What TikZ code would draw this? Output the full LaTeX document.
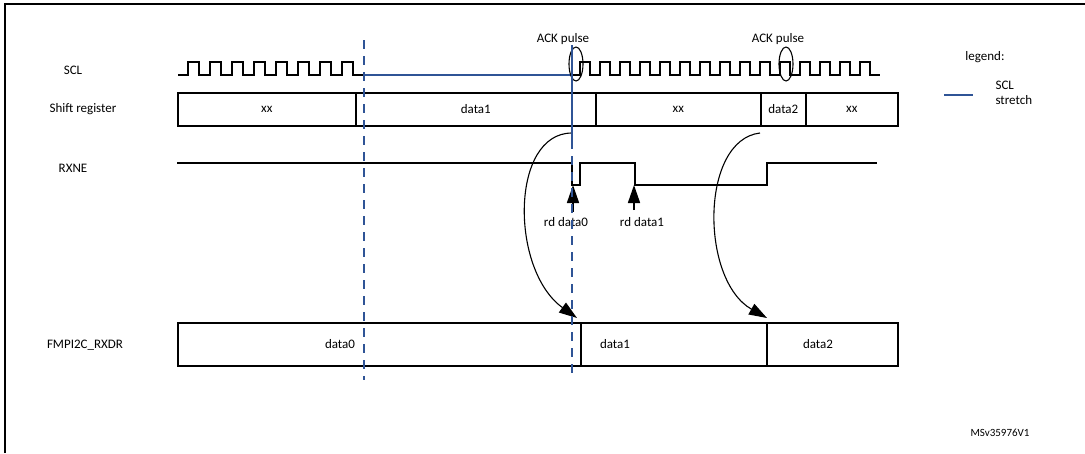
\documentclass[tikz,border=0pt]{standalone}
\usepackage{fontspec}
\setmainfont{Carlito}
\definecolor{stretchblue}{RGB}{47,84,150}
\usetikzlibrary{arrows.meta}
\usetikzlibrary{shapes.geometric}
\tikzset{
  sig/.style={line width=1.8pt},
  reg/.style={draw, line width=1.6pt, minimum height=33pt, anchor=north west, inner sep=0pt,
    font=\fontsize{13pt}{15pt}\selectfont},
  lbl/.style={font=\fontsize{13pt}{15pt}\selectfont},
  tri/.style={-{Triangle[length=18pt,width=12pt]}, line width=1.1pt},
  marker/.style={stretchblue, line width=1.4pt}
}
\begin{document}
\begin{tikzpicture}[x=1pt,y=-1pt]
  \useasboundingbox (0,0) rectangle (1085,453);
  % frame
  \draw [line width=2pt] (5,453) -- (5,4) -- (1085,4);

  % left labels
  \node [lbl] (sclL) at (73,70) {SCL};
  \node [lbl] (srL) at (83,109) {Shift register};
  \node [lbl] (rxneL) at (73,168) {RXNE};
  \node [lbl] (rxdrL) at (85,345) {FMPI2C\_RXDR};

  % SCL
  \draw [sig] (178,75) -- (188,75)
    \foreach \i in {0,...,7} { -- ++(0,-13) -- ++(11,0) -- ++(0,13) -- ++(11,0) };
  \draw [marker] (364,75) -- (572,75);
  \draw [sig] (572,75) -- (580,75)
    \foreach \i in {0,...,14} { -- ++(0,-13) -- ++(10,0) -- ++(0,13) -- ++(10,0) };
  \node [ellipse, draw, line width=1.1pt, minimum width=14pt, minimum height=34pt] (ack1) at (576,64) {};
  \node [ellipse, draw, line width=1.1pt, minimum width=14pt, minimum height=34pt] (ack2) at (786,64) {};
  \node [lbl, above=0pt] (ack1L) at (563,48) {ACK pulse};
  \node [lbl, above=0pt] (ack2L) at (778,48) {ACK pulse};

  % shift register
  \node [reg, minimum width=178pt] (sr1) at (177,92) {xx};
  \node [reg, minimum width=240pt] (sr2) at (355,92) {data1};
  \node [reg, minimum width=165pt] (sr3) at (595,92) {xx};
  \node [reg, minimum width=45pt] (sr4) at (760,92) {data2};
  \node [reg, minimum width=92pt] (sr5) at (805,92) {xx};

  % RXNE
  \draw [sig] (177,163) -- (572,163) -- (572,185) -- (580,185) -- (580,163)
    -- (635,163) -- (635,185) -- (767,185) -- (767,163) -- (877,163);
  \coordinate (rd0) at (573,185);
  \coordinate (rd1) at (634,185);
  \node [lbl] (rd0L) at (566,222) {rd data0};
  \node [lbl] (rd1L) at (642,222) {rd data1};
  \draw [tri, line width=1.6pt] (573,212) -- (rd0);
  \draw [tri, line width=1.6pt] (634,210) -- (rd1);

  % FMPI2C_RXDR
  \node [reg, minimum height=43pt, minimum width=403pt] (dr1) at (177,322) {};
  \node [lbl] (dr1L) at (340,344) {data0};
  \node [reg, minimum height=43pt, minimum width=186pt] (dr2) at (580,322) {};
  \node [lbl] (dr2L) at (615,344) {data1};
  \node [reg, minimum height=43pt, minimum width=131pt] (dr3) at (766,322) {};
  \node [lbl] (dr3L) at (818,344) {data2};

  % transfers
  \draw [tri] (572,133) .. controls (510,133) and (510,270) .. (577,318);
  \draw [tri] (760,133) .. controls (700,140) and (700,280) .. (767,318);

  % stretch markers
  \draw [marker, dash pattern=on 9pt off 7pt] (364,40) -- (364,380);
  \draw [marker] (572,45) -- (572,140);
  \draw [marker, dash pattern=on 9pt off 7pt] (572,140) -- (572,380);

  % legend
  \node [lbl] (legL) at (985,57) {legend:};
  \draw [marker] (944,95) -- (973,95);
  \node [lbl, anchor=west, align=left] (legS) at (992,93) {SCL\\stretch};
  \node [font=\fontsize{11pt}{13pt}\selectfont] (ver) at (1000,433) {MSv35976V1};
\end{tikzpicture}
\end{document}
